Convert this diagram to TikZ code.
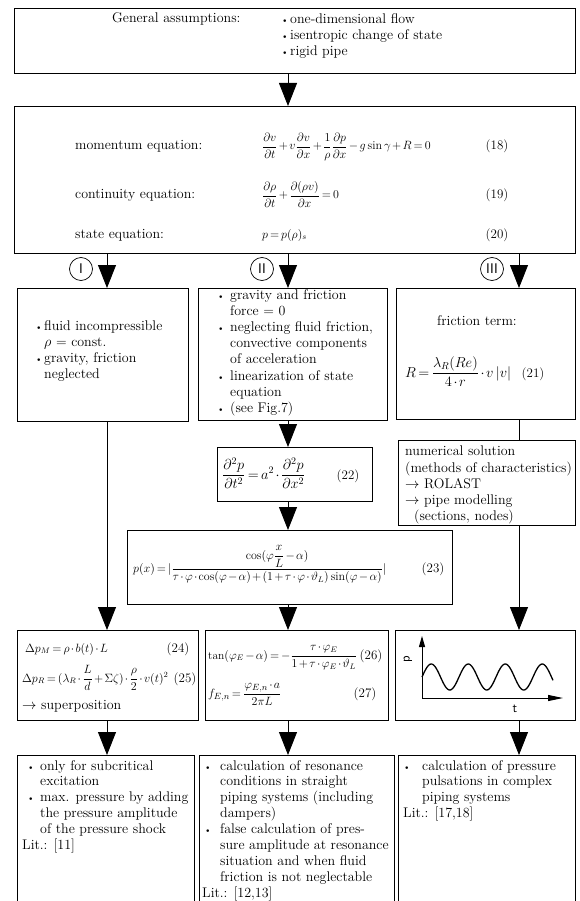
\documentclass[tikz,border=0pt]{standalone}
\usepackage{amsmath}
\usepackage{fontspec}
\usepackage{graphicx}
\usetikzlibrary{arrows.meta}
\newcommand\bl{\scalebox{0.7}{\textbullet}}
\newcommand\bi[1]{\makebox[#1][l]{\bl}}
\newcommand\ind[1]{\hspace*{#1}}
\newcommand\tmath{\medmuskip=2mu plus 1mu\thickmuskip=3mu}
\begin{document}
\begin{tikzpicture}[x=1pt,y=-1pt,
  box/.style={draw, line width=0.8pt, inner sep=0, anchor=north west},
  txt/.style={anchor=north west, inner sep=0, align=left, font=\fontsize{14}{16.2}\selectfont},
  btxt/.style={anchor=north west, inner sep=0, align=left, font=\fontsize{14}{15.9}\selectfont},
  one/.style={anchor=base west, inner sep=0, font=\fontsize{14}{16.2}\selectfont},
  eqn/.style={anchor=base west, inner sep=0, font=\fontsize{12}{14}\selectfont},
  num/.style={anchor=base, inner sep=0, font=\fontsize{13}{14}\selectfont},
  arr/.style={-{Triangle[width=18pt,length=23pt]}, line width=0.8pt},
  lin/.style={line width=0.8pt},
  circ/.style={draw, circle, line width=0.7pt, minimum size=23pt, inner sep=0, font=\fontsize{14}{14}\sffamily}
]
\fill[white] (0,0) rectangle (580,901);
\useasboundingbox (0,0) rectangle (580,901);

% column x positions
\coordinate (xI) at (107,0);
\coordinate (xII) at (288,0);
\coordinate (xIII) at (519,0);

% boxes
\node[box, minimum width=561pt, minimum height=65pt] (top) at (14,8) {};
\node[box, minimum width=561pt, minimum height=147pt] (eq) at (14,106) {};
\node[box, minimum width=171pt, minimum height=133pt] (cI) at (17,288) {};
\node[box, minimum width=189pt, minimum height=132pt] (cII) at (198,288) {};
\node[box, minimum width=179pt, minimum height=131pt] (cIII) at (396,288) {};
\node[box, minimum width=155pt, minimum height=54pt] (e22) at (217,447) {};
\node[box, minimum width=177pt, minimum height=85pt] (nb) at (398,440) {};
\node[box, minimum width=325pt, minimum height=74pt] (e23) at (127,530) {};
\node[box, minimum width=181pt, minimum height=90pt] (b24) at (17,630) {};
\node[box, minimum width=183pt, minimum height=90pt] (b26) at (205,630) {};
\node[box, minimum width=180pt, minimum height=90pt] (bg) at (395,630) {};
\node[box, minimum width=177pt, minimum height=160pt] (bot1) at (17,755) {};
\node[box, minimum width=195pt, minimum height=160pt] (bot2) at (199,755) {};
\node[box, minimum width=177pt, minimum height=160pt] (bot3) at (398,755) {};

% top box text
\node[one] (ga) at (112,23) {General assumptions:};
\node[txt] (gal) at (281,13) {\bi{9pt}one-dimensional flow\\ \bi{9pt}isentropic change of state\\ \bi{9pt}rigid pipe};

% equations box
\node[one] (lm) at (75,150) {momentum equation:};
\node[one] (lc) at (75,199) {continuity equation:};
\node[one] (ls) at (75,238) {state equation:};
\node[eqn] (em) at (262,150) {$\displaystyle\tmath \frac{\partial v}{\partial t}+v\frac{\partial v}{\partial x}+\frac{1}{\rho}\frac{\partial p}{\partial x}-g\sin\gamma+R=0$};
\node[eqn] (ec) at (262,199) {$\displaystyle\tmath \frac{\partial\rho}{\partial t}+\frac{\partial(\rho v)}{\partial x}=0$};
\node[eqn] (es) at (262,238) {$\tmath p=p(\rho)_s$};
\node[num] (n18) at (497,150) {(18)};
\node[num] (n19) at (497,199) {(19)};
\node[num] (n20) at (497,238) {(20)};

% roman numerals
\node[circ] (rI) at (81,269) {I};
\node[circ] (rII) at (262,269) {II};
\node[circ] (rIII) at (492,269) {III};

% column I
\node[txt] (tI) at (35,320) {\bi{9pt}fluid incompressible\\ \ind{9pt}$\rho$ = const.\\ \bi{9pt}gravity, friction\\ \ind{9pt}neglected};

% column II
\node[txt] (tII) at (217,289) {\bi{13pt}gravity and friction\\ \ind{13pt}force = 0\\ \bi{13pt}neglecting fluid friction,\\ \ind{13pt}convective components\\ \ind{13pt}of acceleration\\ \bi{13pt}linearization of state\\ \ind{13pt}equation\\ \bi{13pt}(see Fig.7)};

% column III
\node[one, anchor=base] (ft) at (477,325) {friction term:};
\node[eqn, font=\fontsize{14.5}{16}\selectfont] (q21) at (405,377) {$\displaystyle\tmath R=\frac{\lambda_R(Re)}{4\cdot r}\cdot v\,|v|$};
\node[num] (n21) at (533,377) {(21)};

% numerical solution
\node[txt] (tn) at (405,446) {numerical solution\\ (methods of characteristics)\\ $\rightarrow$ ROLAST\\ $\rightarrow$ pipe modelling\\ \ind{9pt}(sections, nodes)};

% eq 22
\node[eqn, font=\fontsize{14}{16}\selectfont] (q22) at (222,479) {$\displaystyle\tmath \frac{\partial^2p}{\partial t^2}=a^2\cdot\frac{\partial^2 p}{\partial x^2}$};
\node[num] (n22) at (348,479) {(22)};

% eq 23
\node[eqn] (q23) at (133,572) {$\displaystyle\tmath p(x)=|\frac{\cos(\varphi\dfrac{x}{L}-\alpha)}{\tau\cdot\varphi\cdot\cos(\varphi-\alpha)+(1+\tau\cdot\varphi\cdot\vartheta_L)\sin(\varphi-\alpha)}|$};
\node[num] (n23) at (433,572) {(23)};

% eq 24/25
\node[eqn] (q24) at (25,652) {$\tmath \Delta p_M=\rho\cdot b(t)\cdot L$};
\node[num] (n24) at (178,652) {(24)};
\node[eqn] (q25) at (22,682) {$\displaystyle\tmath \Delta p_R=(\lambda_R\cdot\frac{L}{d}+\Sigma\zeta)\cdot\frac{\rho}{2}\cdot v(t)^2$};
\node[num] (n25) at (185,682) {(25)};
\node[one] (sp) at (22,709) {$\rightarrow$ superposition};

% eq 26/27
\node[eqn, font=\fontsize{11.5}{14}\selectfont] (q26) at (208,659) {$\displaystyle\tmath \tan(\varphi_E-\alpha)=-\frac{\tau\cdot\varphi_E}{1+\tau\cdot\varphi_E\cdot\vartheta_L}$};
\node[num] (n26) at (371,659) {(26)};
\node[eqn, font=\fontsize{12.5}{14}\selectfont] (q27) at (208,697) {$\displaystyle\tmath f_{E,n}=\frac{\varphi_{E,n}\cdot a}{2\pi L}$};
\node[num] (n27) at (365,697) {(27)};

% graph
\coordinate (o) at (422,698);
\coordinate (ytop) at (422,636);
\coordinate (xend) at (563,698);
\draw[line width=1pt, -{Triangle[width=6pt,length=11pt]}] (o) -- (ytop);
\draw[line width=1pt, -{Triangle[width=6pt,length=15pt]}] (o) -- (xend);
\node[rotate=90, inner sep=0, font=\fontsize{13}{13}\sffamily] (pl) at (408,659) {p};
\node[inner sep=0, font=\fontsize{13}{13}\sffamily] (tl) at (515,709) {t};
\draw[line width=1.3pt] plot[domain=0:131,samples=120,smooth] ({422+\x},{677-13*sin(9.7297*\x)});

% bottom texts
\node[btxt] (t1) at (27,760) {\bi{13pt}only for subcritical\\ \ind{13pt}excitation\\ \bi{13pt}max. pressure by adding\\ \ind{13pt}the pressure amplitude\\ \ind{13pt}of the pressure shock\\ \hspace*{-5pt}Lit.: [11]};
\node[btxt] (t2) at (204,760) {\bi{16pt}calculation of resonance\\ \ind{16pt}conditions in straight\\ \ind{16pt}piping systems (including\\ \ind{16pt}dampers)\\ \bi{16pt}false calculation of pres-\\ \ind{16pt}sure amplitude at resonance\\ \ind{16pt}situation and when fluid\\ \ind{16pt}friction is not neglectable\\ \hspace*{-2pt}Lit.: [12,13]};
\node[btxt] (t3) at (403,760) {\bi{19pt}calculation of pressure\\ \ind{19pt}pulsations in complex\\ \ind{19pt}piping systems\\ Lit.: [17,18]};

% connectors
\draw[arr] (top.south -| xII) -- (eq.north -| xII);
\draw[arr] (eq.south -| xI) -- (cI.north -| xI);
\draw[arr] (eq.south -| xII) -- (cII.north -| xII);
\draw[arr] (eq.south -| xIII) -- (cIII.north -| xIII);
\draw[arr] (cII.south -| xII) -- (e22.north -| xII);
\draw[arr] (e22.south -| xII) -- (e23.north -| xII);
\draw[arr] (e23.south -| xII) -- (b26.north -| xII);
\draw[arr] (cI.south -| xI) -- (b24.north -| xI);
\draw[lin] (cIII.south -| xIII) -- (nb.north -| xIII);
\draw[arr] (nb.south -| xIII) -- (bg.north -| xIII);
\draw[arr] (b24.south -| xI) -- (bot1.north -| xI);
\draw[arr] (b26.south -| xII) -- (bot2.north -| xII);
\draw[arr] (bg.south -| xIII) -- (bot3.north -| xIII);
\end{tikzpicture}
\end{document}
